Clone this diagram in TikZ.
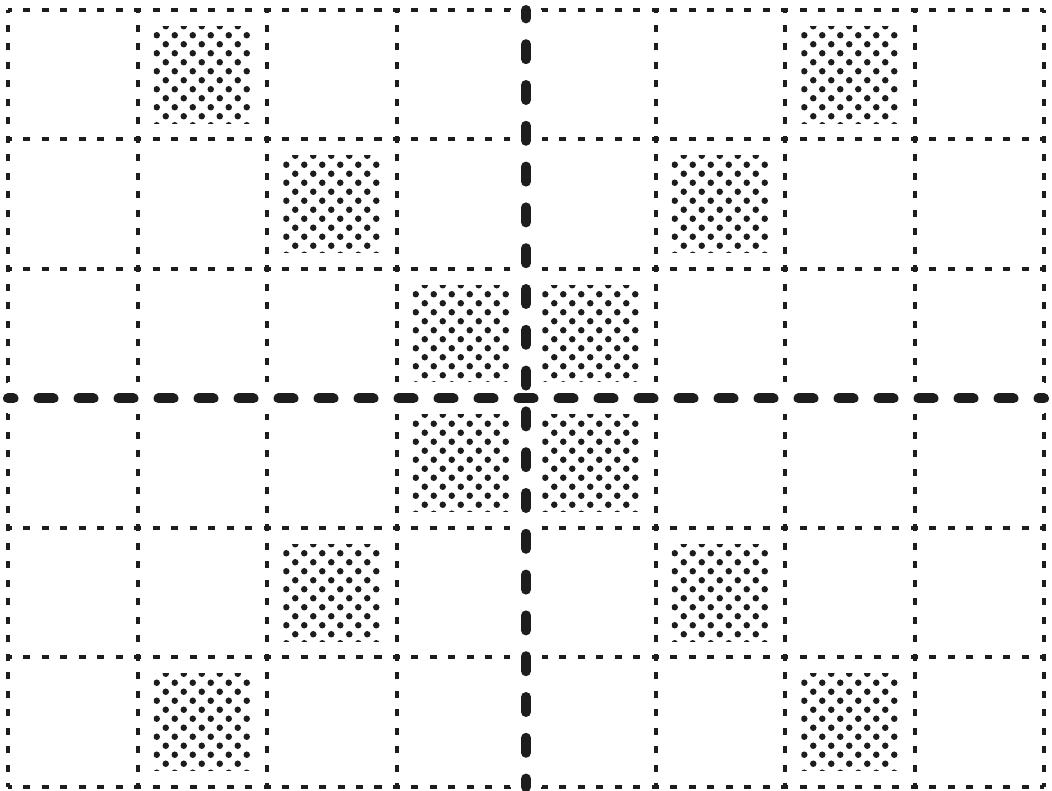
\documentclass[tikz,border=0pt]{standalone}
\definecolor{ink}{HTML}{1D1D1B}

\begin{document}
\begin{tikzpicture}[
    gridline/.style={draw=ink, line width=0.08cm, dash pattern=on 0.14cm off 0.23cm, dash phase=0.07cm},
    dotsquare/.style={minimum size=1.94cm, inner sep=0pt, outer sep=0pt, path picture={
        \foreach \i in {0,...,11} {
            \foreach \j in {0,...,6} {
                \fill[ink] (path picture bounding box.north west) ++({\j*0.36+0.06+0.18*mod(\i+1,2)}, {-\i*0.18}) circle (0.065);
            }
        }
    }},
    band/.style={white, line width=0.64cm},
    axis/.style={ink, line width=0.2cm, line cap=round}
]

\useasboundingbox (-0.16,-0.08) rectangle (20.88,15.74);

% Dotted cell grid (8 x 6)
\foreach \i in {0,...,8}
    \draw[gridline] (\i*2.59, 0) -- (\i*2.59, 15.54);
\foreach \i in {0,...,6}
    \draw[gridline] (0, \i*2.59) -- (20.72, \i*2.59);

% Dot-filled squares
\foreach \c/\r in {1/0, 6/0, 2/1, 5/1, 3/2, 4/2, 3/3, 4/3, 2/4, 5/4, 1/5, 6/5}
    \node[dotsquare] (sq-\c-\r) at ({(\c+0.5)*2.59}, {(5.5-\r)*2.59}) {};

% Centre axes
\coordinate (axis-top) at (10.36, 15.54);
\coordinate (axis-bottom) at (10.36, 0);
\coordinate (axis-left) at (0, 7.77);
\coordinate (axis-right) at (20.72, 7.77);

\draw[band] (axis-top) -- (axis-bottom);
\draw[band] (axis-left) -- (axis-right);
\draw[axis, dash pattern=on 0.3cm off 0.516cm, dash phase=0.132cm] (axis-top) -- (axis-bottom);
\draw[axis, dash pattern=on 0.3cm off 0.5cm, dash phase=0.19cm] (axis-left) -- (axis-right);

\end{tikzpicture}
\end{document}
